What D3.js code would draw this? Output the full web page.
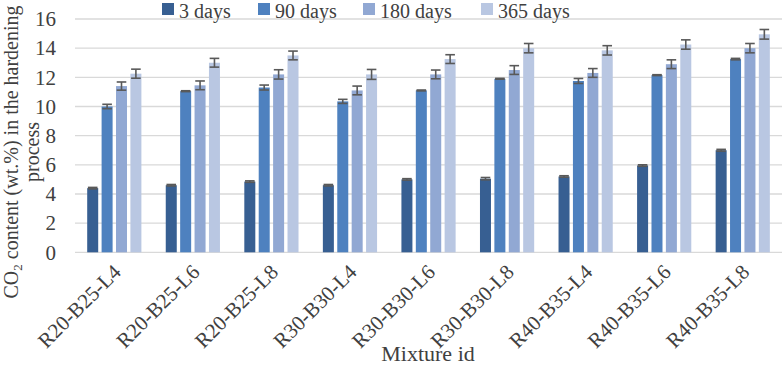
<!DOCTYPE html>
<html>
<head>
<meta charset="utf-8">
<script src="https://cdn.jsdelivr.net/npm/d3@7"></script>
<style>
  html, body { margin: 0; padding: 0; background: #fff; }
  svg { display: block; }
  text { font-family: "Liberation Serif", "DejaVu Serif", serif; fill: #404040; }
</style>
</head>
<body>
<svg id="chart" width="782" height="365"></svg>
<script>
const categories = ["R20-B25-L4","R20-B25-L6","R20-B25-L8","R30-B30-L4","R30-B30-L6","R30-B30-L8","R40-B35-L4","R40-B35-L6","R40-B35-L8"];
const seriesNames = ["3 days","90 days","180 days","365 days"];
const days3   = [4.4, 4.6, 4.85, 4.6, 5.0, 5.05, 5.2, 5.95, 7.0];
const days90  = [10.0, 11.05, 11.3, 10.35, 11.1, 11.9, 11.75, 12.15, 13.25];
const days180 = [11.4, 11.45, 12.2, 11.1, 12.2, 12.5, 12.3, 12.9, 14.0];
const days365 = [12.25, 13.0, 13.5, 12.2, 13.25, 14.0, 13.85, 14.25, 14.95];
const err3   = [0.05, 0.05, 0.05, 0.05, 0.05, 0.08, 0.05, 0.05, 0.06];
const err90  = [0.15, 0.03, 0.17, 0.14, 0.03, 0.03, 0.17, 0.03, 0.05];
const err180 = [0.28, 0.3, 0.32, 0.3, 0.3, 0.3, 0.3, 0.3, 0.32];
const err365 = [0.31, 0.3, 0.3, 0.34, 0.3, 0.32, 0.32, 0.32, 0.33];
const yTicks = [0, 2, 4, 6, 8, 10, 12, 14, 16];
const colors = ["#375F92", "#4E81BF", "#91A8D3", "#B9C7E2"];

const values = [days3, days90, days180, days365];
const errors = [err3, err90, err180, err365];
const data = [];
categories.forEach((c, i) => {
  seriesNames.forEach((s, j) => {
    data.push({cat: c, series: s, idx: j, v: values[j][i], e: errors[j][i]});
  });
});

const svg = d3.select("#chart");
const x0 = d3.scaleBand().domain(categories).range([75, 782]).padding(0);
const x1 = d3.scaleBand().domain(seriesNames).range([12.2, 66.4]).paddingInner(0.236).paddingOuter(0);
const y = d3.scaleLinear().domain([0, 16]).range([252.3, 19]);

// gridlines
svg.append("g").selectAll("line").data(yTicks).join("line")
  .attr("x1", 75).attr("x2", 782)
  .attr("y1", d => y(d)).attr("y2", d => y(d))
  .attr("stroke", "#D9D9D9").attr("stroke-width", 1.3);

// y tick labels via axis
const yAxis = svg.append("g").attr("transform", "translate(75,0)")
  .call(d3.axisLeft(y).tickValues(yTicks).tickSize(0).tickPadding(19));
yAxis.select(".domain").remove();
yAxis.selectAll("text").style("font-family", '"Liberation Serif", serif')
  .attr("font-size", 21).attr("fill", "#404040");

// bars
svg.append("g").selectAll("rect").data(data).join("rect")
  .attr("x", d => x0(d.cat) + x1(d.series))
  .attr("width", x1.bandwidth())
  .attr("y", d => y(d.v))
  .attr("height", d => y(0) - y(d.v))
  .attr("fill", d => colors[d.idx]);

// error bars
const eg = svg.append("g").attr("stroke", "#595959").attr("stroke-width", 1.6).attr("fill", "none");
data.forEach(d => {
  const cx = x0(d.cat) + x1(d.series) + x1.bandwidth() / 2;
  const hw = 4.8;
  const yt = y(d.v + d.e), yb = y(d.v - d.e);
  eg.append("line").attr("x1", cx).attr("x2", cx).attr("y1", yt).attr("y2", yb);
  eg.append("line").attr("x1", cx - hw).attr("x2", cx + hw).attr("y1", yt).attr("y2", yt);
  eg.append("line").attr("x1", cx - hw).attr("x2", cx + hw).attr("y1", yb).attr("y2", yb);
});

// x axis labels
const xAxis = svg.append("g").attr("transform", `translate(0,${y(0)})`)
  .call(d3.axisBottom(x0).tickSize(0).tickPadding(0));
xAxis.select(".domain").remove();
xAxis.selectAll("text")
  .style("font-family", '"Liberation Serif", serif')
  .attr("font-size", 21).attr("fill", "#404040")
  .attr("text-anchor", "end")
  .attr("dy", 0)
  .attr("transform", "translate(8,21) rotate(-45)");

// x axis title
svg.append("text").attr("x", 428).attr("y", 361).attr("text-anchor", "middle")
  .attr("font-size", 22).text("Mixture id");

// y axis title
const yt = svg.append("text").attr("transform", "translate(18,152) rotate(-90)")
  .attr("text-anchor", "middle").attr("font-size", 20);
yt.append("tspan").attr("x", 0).attr("dy", 0).text("CO");
yt.append("tspan").attr("font-size", 13).attr("dy", 4).text("2");
yt.append("tspan").attr("dy", -4).text(" content (wt.%) in the hardening");
yt.append("tspan").attr("x", 0).attr("dy", 21).text("process");

// legend
const legendX = [162, 258, 363, 481];
const lg = svg.append("g");
seriesNames.forEach((s, j) => {
  lg.append("rect").attr("x", legendX[j]).attr("y", 3).attr("width", 12).attr("height", 12).attr("fill", colors[j]);
  lg.append("text").attr("x", legendX[j] + 17).attr("y", 18).attr("font-size", 20).text(s);
});
</script>
</body>
</html>
